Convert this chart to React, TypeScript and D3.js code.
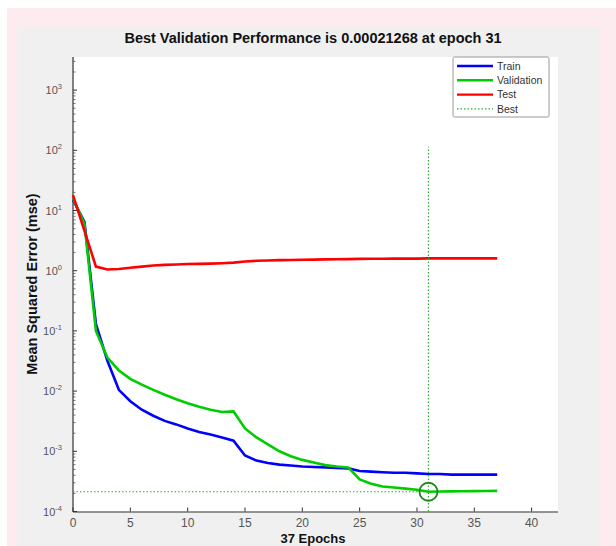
import React from "react";
import * as d3 from "d3";

const epochs = d3.range(0, 38);

const trainPerf = [
  15, 6.5, 0.13, 0.032, 0.0105, 0.0068, 0.0049, 0.0039, 0.0032, 0.0028,
  0.0024, 0.0021, 0.0019, 0.0017, 0.0015, 0.00085, 0.0007, 0.00064, 0.0006,
  0.00058, 0.00056, 0.00055, 0.00054, 0.00053, 0.00052, 0.00047, 0.00046,
  0.00045, 0.00044, 0.00044, 0.00043, 0.00042, 0.00042, 0.00041, 0.00041,
  0.00041, 0.00041, 0.00041,
];

const valPerf = [
  16, 6.0, 0.1, 0.036, 0.022, 0.016, 0.0128, 0.0105, 0.0087, 0.0073, 0.0063,
  0.0055, 0.0049, 0.0045, 0.0046, 0.0024, 0.0017, 0.0013, 0.001, 0.00083,
  0.00072, 0.00065, 0.00059, 0.00056, 0.00054, 0.00034, 0.00029, 0.00026,
  0.00025, 0.00024, 0.00023, 0.00021268, 0.000215, 0.000216, 0.000217,
  0.000218, 0.000219, 0.00022,
];

const testPerf = [
  18, 4.6, 1.17, 1.05, 1.07, 1.12, 1.17, 1.22, 1.25, 1.27, 1.29, 1.3, 1.31,
  1.33, 1.36, 1.42, 1.46, 1.48, 1.5, 1.51, 1.52, 1.53, 1.54, 1.55, 1.56, 1.57,
  1.58, 1.58, 1.59, 1.59, 1.59, 1.6, 1.6, 1.6, 1.6, 1.6, 1.6, 1.6,
];

const bestEpoch = 31;
const bestPerf = 0.00021268;
const bestLineTop = 115;

const xTicks = [0, 5, 10, 15, 20, 25, 30, 35, 40];
const yExponents = [-4, -3, -2, -1, 0, 1, 2, 3];

const legendItems = [
  { label: "Train", color: "#0000ff", dash: "" },
  { label: "Validation", color: "#00cc00", dash: "" },
  { label: "Test", color: "#ff0000", dash: "" },
  { label: "Best", color: "#33aa33", dash: "1.5,2" },
];

const W = 616;
const H = 546;
const left = 73;
const right = 558;
const top = 57;
const bottom = 511.5;
const font = "'Liberation Sans', Arial, sans-serif";

export default function App() {
  const x = d3.scaleLinear().domain([0, 42.3]).range([left, right]);
  const y = d3.scaleLog().domain([1e-4, Math.pow(10, 3.55)]).range([bottom, top]);

  const line = d3
    .line<number>()
    .x((_, i) => x(epochs[i]))
    .y((d) => y(d));

  const minor: number[] = [];
  yExponents.forEach((k) => {
    for (let m = 2; m <= 9; m++) {
      const v = m * Math.pow(10, k);
      if (v < Math.pow(10, 3.55)) minor.push(v);
    }
  });

  return (
    <svg
      width={W}
      height={H}
      style={{ position: "absolute", left: 0, top: 0 }}
      fontFamily={font}
    >
      <rect x={0} y={0} width={W} height={H} fill="#ffffff" />
      <rect x={7} y={8} width={W - 7} height={H - 8} fill="#fdecef" />
      <rect x={18} y={27} width={582} height={H - 27} fill="#f0f0f0" />
      <rect x={left} y={top} width={right - left} height={bottom - top} fill="#ffffff" />

      <text x={313} y={43} textAnchor="middle" fontSize={14.5} fontWeight="bold" fill="#111">
        Best Validation Performance is 0.00021268 at epoch 31
      </text>

      {/* axes */}
      <line x1={left} x2={left} y1={top} y2={bottom + 0.5} stroke="#333" strokeWidth={1.2} />
      <line x1={left} x2={right} y1={bottom + 0.5} y2={bottom + 0.5} stroke="#333" strokeWidth={1.2} />

      {xTicks.map((t) => (
        <g key={t}>
          <line x1={x(t)} x2={x(t)} y1={bottom} y2={bottom - 4} stroke="#333" />
          <text x={x(t)} y={527} textAnchor="middle" fontSize={12} fill="#555">
            {t}
          </text>
        </g>
      ))}

      {yExponents.map((k) => (
        <g key={k}>
          <line x1={left} x2={left + 4} y1={y(Math.pow(10, k))} y2={y(Math.pow(10, k))} stroke="#333" />
          <text x={62} y={y(Math.pow(10, k)) + 4} textAnchor="end" fontSize={11} fill="#555">
            10
            <tspan dy={-5} fontSize={7.5}>
              {k}
            </tspan>
          </text>
        </g>
      ))}
      {minor.map((v, i) => (
        <line key={i} x1={left} x2={left + 2.5} y1={y(v)} y2={y(v)} stroke="#555" strokeWidth={0.8} />
      ))}

      <text
        transform={`translate(37,284) rotate(-90)`}
        textAnchor="middle"
        fontSize={14.5}
        fontWeight="bold"
        fill="#111"
      >
        Mean Squared Error  (mse)
      </text>
      <text x={313} y={543} textAnchor="middle" fontSize={13} fontWeight="bold" fill="#111">
        37 Epochs
      </text>

      {/* series */}
      <path d={line(trainPerf) || ""} fill="none" stroke="#0000ff" strokeWidth={2.6} />
      <path d={line(valPerf) || ""} fill="none" stroke="#00cc00" strokeWidth={2.6} />
      <path d={line(testPerf) || ""} fill="none" stroke="#ff0000" strokeWidth={2.6} />

      {/* best markers */}
      <line
        x1={x(bestEpoch)}
        x2={x(bestEpoch)}
        y1={y(1e-4)}
        y2={y(bestLineTop)}
        stroke="#33aa33"
        strokeWidth={1.2}
        strokeDasharray="1.5,2"
      />
      <line
        x1={x(0)}
        x2={x(bestEpoch)}
        y1={y(bestPerf)}
        y2={y(bestPerf)}
        stroke="#33aa33"
        strokeWidth={1.2}
        strokeDasharray="1.5,2"
      />
      <circle cx={x(bestEpoch)} cy={y(bestPerf)} r={9} fill="none" stroke="#1a8a1a" strokeWidth={1.8} />

      {/* legend */}
      <rect x={453} y={57} width={96} height={60} fill="#ffffff" stroke="#999" strokeWidth={1} rx={1.5} />
      {legendItems.map((d, i) => {
        const ly = 66 + i * 14.3;
        return (
          <g key={d.label}>
            <line
              x1={457}
              x2={493}
              y1={ly}
              y2={ly}
              stroke={d.color}
              strokeWidth={d.dash ? 1.2 : 2.4}
              strokeDasharray={d.dash}
            />
            <text x={497} y={ly + 3.8} fontSize={10.5} fill="#333">
              {d.label}
            </text>
          </g>
        );
      })}
    </svg>
  );
}
